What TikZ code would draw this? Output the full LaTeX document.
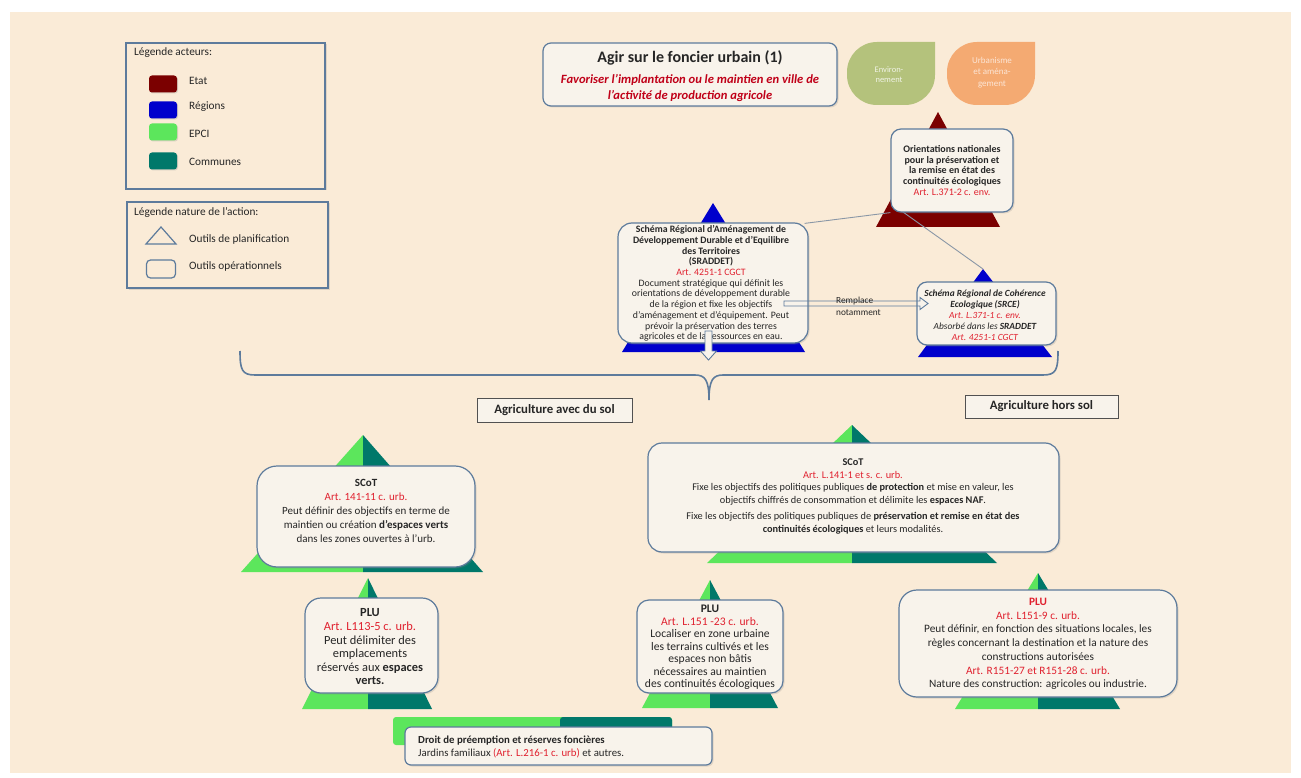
\documentclass[tikz,border=0pt]{standalone}
\usepackage{fontspec}
\setmainfont{Carlito}
\usetikzlibrary{shadows,calc}
\pgfdeclarelayer{trilayer}
\pgfdeclarelayer{linklayer}
\pgfsetlayers{trilayer,linklayer,main}
\definecolor{bg}{HTML}{FAEBD7}
\definecolor{boxfill}{HTML}{F8F3EB}
\definecolor{boxline}{HTML}{5D7B9C}
\definecolor{etat}{HTML}{7B0000}
\definecolor{region}{HTML}{0000CC}
\definecolor{epci}{HTML}{5CE65C}
\definecolor{commune}{HTML}{00786A}
\definecolor{artred}{HTML}{E0202E}
\definecolor{titlered}{HTML}{C00018}
\definecolor{ink}{HTML}{262626}
\definecolor{leafgreen}{HTML}{B4C27C}
\definecolor{leaforange}{HTML}{F4AA72}
\definecolor{linkgrey}{HTML}{8A97A6}
\newcommand{\setfs}[2]{\fontsize{#1}{#2}\selectfont}
\newcommand{\art}[1]{\textcolor{artred}{#1}}
\newcommand{\bicoltri}[5]{%
  \fill[epci] (#1,#2) -- (#3,#5) -- (#1,#5) -- cycle;
  \fill[commune] (#1,#2) -- (#1,#5) -- (#4,#5) -- cycle;}
\begin{document}
\begin{tikzpicture}[x=1pt,y=-1pt,
  box/.style={draw=boxline, line width=1.2pt, fill=boxfill, rounded corners=#1, inner sep=0pt,
    drop shadow={opacity=0.22, shadow xshift=1.5pt, shadow yshift=-1.5pt}},
  box/.default=12pt,
  legbox/.style={draw=boxline, line width=1.2pt, fill=bg, inner sep=0pt,
    drop shadow={opacity=0.22, shadow xshift=1.5pt, shadow yshift=-1.5pt}},
  swatch/.style={minimum width=28pt, minimum height=17pt, rounded corners=3pt, inner sep=0pt,
    drop shadow={opacity=0.25, shadow xshift=1pt, shadow yshift=-1pt}},
  headbox/.style={draw=ink!80, line width=0.9pt, fill=boxfill, inner sep=0pt},
  txt/.style={text=ink, align=center, inner sep=0pt},
  legtxt/.style={text=ink, anchor=west, inner sep=0pt, font=\setfs{11.3}{13}},
  link/.style={draw=linkgrey, line width=0.9pt},
  hollow/.style={draw=boxline, line width=0.9pt},
  bracestyle/.style={draw=boxline, line width=1.6pt}
]
\useasboundingbox (0,0) rectangle (1301,778);
\begin{pgfonlayer}{trilayer}
\fill[white] (0,0) rectangle (1301,778);
\fill[bg] (10,12) rectangle (1291,773);
% leaves
\fill[leafgreen] (935,42) -- (935,75) .. controls (935,91.6) and (921.6,105) .. (905,105) -- (877,105)
  .. controls (860.4,105) and (847,91.6) .. (847,75) -- (847,72) .. controls (847,55.4) and (860.4,42) .. (877,42) -- cycle;
\fill[leaforange] (1035,42) -- (1035,75) .. controls (1035,91.6) and (1021.6,105) .. (1005,105) -- (977,105)
  .. controls (960.4,105) and (947,91.6) .. (947,75) -- (947,72) .. controls (947,55.4) and (960.4,42) .. (977,42) -- cycle;
% triangles
\fill[etat] (938,112) -- (1000,227) -- (876,227) -- cycle;
\fill[region] (713,203) -- (805,352) -- (622,352) -- cycle;
\coordinate (srceapex) at (983,269);
\fill[region] (srceapex) -- (1052,357) -- (918,357) -- cycle;
\bicoltri{363}{435}{241}{483}{572}
\bicoltri{852}{425}{707}{997}{563}
\bicoltri{368}{578}{302}{432}{709}
\bicoltri{710}{580}{642}{778}{708}
\bicoltri{1038}{573}{955}{1120}{709}
% bottom operational bar
\fill[epci, rounded corners=3pt] (393,717) rectangle (672,745);
\fill[commune, rounded corners=3pt] (560,717) rectangle (672,745);
\end{pgfonlayer}

% ---------- legends
\node[legbox, minimum width=199pt, minimum height=146pt] (leg1) at (225.5,116) {};
\node[legtxt] (leg1t) at (134,53) {Légende acteurs:};
\node[swatch, fill=etat] (sw1) at (163,84) {};
\node[swatch, fill=region] (sw2) at (163,110) {};
\node[swatch, fill=epci] (sw3) at (163,132) {};
\node[swatch, fill=commune] (sw4) at (163,161) {};
\node[legtxt] (lab1) at (189,81) {Etat};
\node[legtxt] (lab2) at (189,107) {Régions};
\node[legtxt] (lab3) at (189,134) {EPCI};
\node[legtxt] (lab4) at (189,162) {Communes};

\node[legbox, minimum width=201pt, minimum height=86pt] (leg2) at (227.5,245) {};
\node[legtxt] (leg2t) at (134,212) {Légende nature de l’action:};
\draw[boxline, line width=1.2pt, fill=bg] (161,227) -- (176,244) -- (146,244) -- cycle;
\node[draw=boxline, line width=1.2pt, fill=bg, rounded corners=4pt, minimum width=29pt, minimum height=18pt, inner sep=0pt] (icon2) at (161,269) {};
\node[legtxt] (lab5) at (189,239) {Outils de planification};
\node[legtxt] (lab6) at (189,266) {Outils opérationnels};

% ---------- title
\node[box=8pt, minimum width=294pt, minimum height=63pt] (title) at (690,74.5) {};
\node[txt, font=\bfseries\setfs{16}{19}] (titleT) at (690,58) {Agir sur le foncier urbain (1)};
\node[txt, text=titlered, font=\bfseries\itshape\setfs{12.6}{16}] (titleS) at (690,88)
  {Favoriser l’implantation ou le maintien en ville de\\l’activité de production agricole};

\node[txt, text=white!80!leafgreen, font=\setfs{8.5}{10}] (envT) at (889,75) {Environ-\\nement};
\node[txt, text=white!70!leaforange, font=\setfs{9}{11.7}] (urbT) at (992,72.5) {Urbanisme\\et aména-\\gement};

% ---------- upper boxes
\node[box=10pt, minimum width=122pt, minimum height=83pt] (orient) at (952,170.5) {};
\node[box=14pt, minimum width=190pt, minimum height=120pt] (sraddet) at (713,283) {};
\node[box=10pt, minimum width=139pt, minimum height=63pt] (srce) at (986.5,313.5) {};

\begin{pgfonlayer}{linklayer}
\draw[link] ($(sraddet.north east)+(-4,1)$) -- (orient.south west);
\draw[link] ($(orient.south west)+(12,-1)$) -- (srceapex);
\end{pgfonlayer}

\node[txt, font=\setfs{10}{10.7}] (orientT) at (952,170.5)
  {\textbf{Orientations nationales}\\\textbf{pour la préservation et}\\\textbf{la remise en état des}\\\textbf{continuités écologiques}\\\art{Art. L.371-2 c. env.}};
\node[txt, font=\setfs{9.8}{10.7}] (sraddetT) at (711,283.5)
  {\textbf{Schéma Régional d’Aménagement de}\\
   \textbf{Développement Durable et d’Equilibre}\\
   \textbf{des Territoires}\\
   \textbf{(SRADDET)}\\
   \art{Art. 4251-1 CGCT}\\
   Document stratégique qui définit les\\
   orientations de développement durable\\
   de la région et fixe les objectifs\\
   d’aménagement et d’équipement. Peut\\
   prévoir la préservation des terres\\
   agricoles et de la ressources en eau.};
\node[txt, font=\itshape\setfs{9.4}{11}] (srceT) at (985,315)
  {\textbf{Schéma Régional de Cohérence}\\
   \textbf{Ecologique (SRCE)}\\
   \art{Art. L.371-1 c. env.}\\
   Absorbé dans les \textbf{SRADDET}\\
   \art{Art. 4251-1 CGCT}};

% hollow arrows
\coordinate (hA) at (784,303.5);
\coordinate (hB) at (928,303.5);
\draw[hollow] ($(hA)+(0,-2.5)$) -- ($(hB)+(-8,-2.5)$) -- ($(hB)+(-8,-6)$) -- (hB) -- ($(hB)+(-8,6)$)
  -- ($(hB)+(-8,2.5)$) -- ($(hA)+(0,2.5)$) -- cycle;
\node[anchor=west, align=left, inner sep=0pt, text=ink, font=\setfs{9.3}{12}] (rempl) at (836,306) {Remplace\\notamment};
\coordinate (vA) at (708.5,331);
\coordinate (vB) at (708.5,360);
\draw[hollow, fill=boxfill] ($(vA)+(-3.5,0)$) -- ($(vB)+(-3.5,-9)$) -- ($(vB)+(-8,-9)$) -- (vB) -- ($(vB)+(8,-9)$)
  -- ($(vB)+(3.5,-9)$) -- ($(vA)+(3.5,0)$) -- cycle;

% brace
\draw[bracestyle] (240,351) .. controls (240,370) and (242,375) .. (255,375) -- (695,375)
  .. controls (705,375) and (709,380) .. (709,400) .. controls (709,380) and (713,375) .. (723,375)
  -- (1043,375) .. controls (1056,375) and (1058,370) .. (1058,351);

% headings
\node[headbox, minimum width=155pt, minimum height=24pt] (headL) at (554.5,410) {};
\node[txt, font=\bfseries\setfs{12.8}{15}] (headLT) at (554.5,410) {Agriculture avec du sol};
\node[headbox, minimum width=153pt, minimum height=23pt] (headR) at (1041.5,406.5) {};
\node[txt, font=\bfseries\setfs{12.8}{15}] (headRT) at (1041.5,406.5) {Agriculture hors sol};

% ---------- lower boxes
\node[box=20pt, minimum width=218pt, minimum height=101pt] (scotL) at (366,516.5) {};
\node[txt, font=\setfs{11}{14}] (scotLT) at (366,511)
  {\textbf{SCoT}\\
   \art{Art. 141-11 c. urb.}\\
   Peut définir des objectifs en terme de\\
   maintien ou création \textbf{d’espaces verts}\\
   dans les zones ouvertes à l’urb.};

\node[box=14pt, minimum width=411pt, minimum height=109pt] (scotR) at (853.5,497.5) {};
\node[txt, font=\setfs{10.3}{12.5}] (scotRT) at (853,496.5)
  {\textbf{SCoT}\\
   \art{Art. L.141-1 et s. c. urb.}\\
   Fixe les objectifs des politiques publiques \textbf{de protection} et mise en valeur, les\\
   objectifs chiffrés de consommation et délimite les \textbf{espaces NAF}.\\[4pt]
   Fixe les objectifs des politiques publiques de \textbf{préservation et remise en état des}\\
   \textbf{continuités écologiques} et leurs modalités.};

\node[box=16pt, minimum width=133pt, minimum height=95pt] (pluL) at (371.5,645.5) {};
\node[txt, font=\setfs{12.4}{13.6}] (pluLT) at (370,647)
  {\textbf{PLU}\\
   \art{Art. L113-5 c. urb.}\\
   Peut délimiter des\\
   emplacements\\
   réservés aux \textbf{espaces}\\
   \textbf{verts.}};

\node[box=12pt, minimum width=146pt, minimum height=93pt] (pluM) at (710,646.5) {};
\node[txt, font=\setfs{11.6}{12.5}] (pluMT) at (710,647.5)
  {\textbf{PLU}\\
   \art{Art. L.151 -23 c. urb.}\\
   Localiser en zone urbaine\\
   les terrains cultivés et les\\
   espaces non bâtis\\
   nécessaires au maintien\\
   des continuités écologiques};

\node[box=18pt, minimum width=278pt, minimum height=107pt] (pluR) at (1038,643.5) {};
\node[txt, font=\setfs{11.3}{13.7}] (pluRT) at (1038,644)
  {\textbf{\art{PLU}}\\
   \art{Art. L151-9 c. urb.}\\
   Peut définir, en fonction des situations locales, les\\
   règles concernant la destination et la nature des\\
   constructions autorisées\\
   \art{Art. R151-27 et R151-28 c. urb.}\\
   Nature des construction: agricoles ou industrie.};

% bottom operational tool
\node[box=6pt, minimum width=307pt, minimum height=38pt] (bottom) at (558.5,746) {};
\node[anchor=west, align=left, inner sep=0pt, text=ink, font=\setfs{10.8}{13}] (bottomT) at (418,746.5)
  {\textbf{Droit de préemption et réserves foncières}\\Jardins familiaux \art{(Art. L.216-1 c. urb)} et autres.};
\end{tikzpicture}
\end{document}
